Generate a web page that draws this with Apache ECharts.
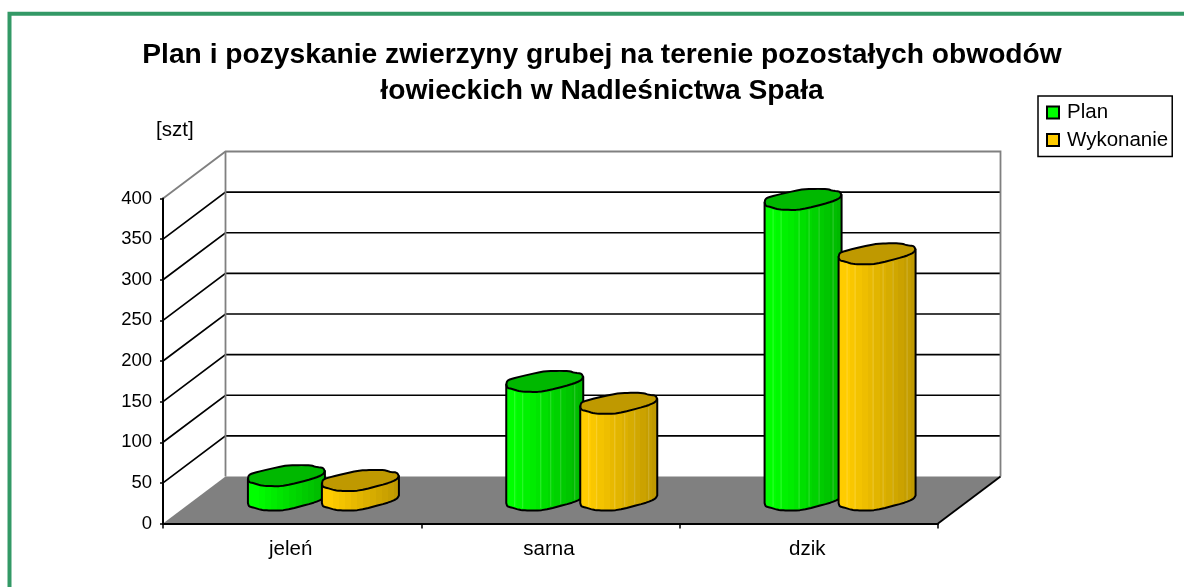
<!DOCTYPE html>
<html><head><meta charset="utf-8">
<style>html,body{margin:0;padding:0;background:#fff}#c{width:1184px;height:587px}</style>
<script src="https://cdn.jsdelivr.net/npm/echarts@6/dist/echarts.min.js"></script>
</head><body><div id="c"></div>
<script>
const categories = ['jeleń', 'sarna', 'dzik'];
const planValues = [30, 146, 370];
const wykonanieValues = [24, 119, 303];
const yTicks = [0, 50, 100, 150, 200, 250, 300, 350, 400];

const FONT = '"Liberation Sans", Arial, sans-serif';
const DEPTH_X = 62.5, DEPTH_Y = -47;
// cap outline of a column, relative to its centre, in px
const CAP = [[-38.5,3],[-37.5,-1],[-30,-3.5],[-2,-10],[10,-10.5],[24,-10.5],[30,-8.5],[36.5,-8],[38.5,-4.5],[36.5,-1],[27,3],[-2,10.5],[-17,10.5],[-25,10],[-33,7.5],[-37.5,6.5]];
const FRONT = [[38.5,-4.5],[36.5,-1],[27,3],[-2,10.5],[-17,10.5],[-25,10],[-33,7.5],[-37.5,6.5],[-38.5,3]];

function chaikin(pts, closed, n) {
  let p = pts;
  for (let k = 0; k < n; k++) {
    const out = [];
    const m = closed ? p.length : p.length - 1;
    if (!closed) out.push(p[0]);
    for (let i = 0; i < m; i++) {
      const a = p[i], b = p[(i + 1) % p.length];
      out.push([a[0]*.78+b[0]*.22, a[1]*.78+b[1]*.22], [a[0]*.22+b[0]*.78, a[1]*.22+b[1]*.78]);
    }
    if (!closed) out.push(p[p.length - 1]);
    p = out;
  }
  return p;
}
const capSmooth = chaikin(CAP, true, 2);
const frontSmooth = chaikin(FRONT, false, 2);

function frontY(x) {
  for (let i = 0; i < frontSmooth.length - 1; i++) {
    const a = frontSmooth[i], b = frontSmooth[i + 1];
    if (x <= a[0] && x >= b[0]) {
      const t = (a[0] - x) / ((a[0] - b[0]) || 1);
      return a[1] + (b[1] - a[1]) * t;
    }
  }
  return 0;
}
function mix(c1, c2, t) {
  return 'rgb(' + c1.map((v, i) => Math.round(v + (c2[i] - v) * t)).join(',') + ')';
}
function bands(bright, dark) {
  const stops = [], n = 13;
  for (let i = 0; i < n; i++) {
    const t = Math.max(0, (i - 1) / (n - 2));
    const c = mix(bright, dark, t);
    stops.push({offset: i / n, color: c}, {offset: (i + 1) / n, color: c});
  }
  return {type: 'linear', x: 0, y: 0, x2: 1, y2: 0, colorStops: stops};
}

function columnRender(shift, bright, dark) {
  return function (params, api) {
    const idx = api.value(0), v = api.value(1);
    const base = api.coord([idx, 0]), top = api.coord([idx, v]);
    const cx = base[0] + shift + DEPTH_X / 2;
    const yb = base[1] + DEPTH_Y / 2, yt = top[1] + DEPTH_Y / 2;
    const abs = (p, y) => [cx + p[0], y + p[1]];
    const line = {stroke: '#000', lineWidth: 2, lineJoin: 'round'};
    const body = [abs(CAP[0], yt), abs(FRONT[0], yt)].concat(frontSmooth.map(p => abs(p, yb)));
    const children = [{
      type: 'polygon', shape: {points: body},
      style: Object.assign({fill: bands(bright, dark)}, line)
    }];
    const h = yb - yt;
    if (h > 60) {
      [-30, -22, -4, 6, 16, 30].forEach(dx => {
        children.push({
          type: 'line',
          shape: {x1: cx + dx, y1: yt + frontY(dx) + 2, x2: cx + dx, y2: yb + frontY(dx) - 2},
          style: {stroke: 'rgba(255,255,255,0.2)', lineWidth: 1}
        });
      });
    }
    children.push({
      type: 'polygon', shape: {points: capSmooth.map(p => abs(p, yt))},
      style: Object.assign({fill: mix(dark, dark, 0)}, line)
    });
    return {type: 'group', children};
  };
}

function wallsRender(params, api) {
  const cs = params.coordSys;
  const x0 = cs.x, x1 = cs.x + cs.width;
  const y0 = api.coord([0, 0])[1];
  const yMax = api.coord([0, yTicks[yTicks.length - 1]])[1];
  const grey = {stroke: '#808080', lineWidth: 1.8};
  const black = {stroke: '#000', lineWidth: 1.7};
  const ch = [];
  ch.push({type: 'polygon', shape: {points: [[x0, y0], [x1, y0], [x1 + DEPTH_X, y0 + DEPTH_Y], [x0 + DEPTH_X, y0 + DEPTH_Y]]}, style: {fill: '#808080'}});
  yTicks.slice(1, -1).forEach(t => {
    const y = api.coord([0, t])[1];
    ch.push({type: 'polyline', shape: {points: [[x0, y], [x0 + DEPTH_X, y + DEPTH_Y], [x1 + DEPTH_X, y + DEPTH_Y]]}, style: Object.assign({fill: null}, black)});
  });
  ch.push({type: 'polyline', shape: {points: [[x0, yMax], [x0 + DEPTH_X, yMax + DEPTH_Y], [x1 + DEPTH_X, yMax + DEPTH_Y], [x1 + DEPTH_X, y0 + DEPTH_Y]]}, style: Object.assign({fill: null}, grey)});
  ch.push({type: 'line', shape: {x1: x0 + DEPTH_X, y1: yMax + DEPTH_Y, x2: x0 + DEPTH_X, y2: y0 + DEPTH_Y}, style: grey});
  ch.push({type: 'line', shape: {x1: x1, y1: y0, x2: x1 + DEPTH_X, y2: y0 + DEPTH_Y}, style: {stroke: '#000', lineWidth: 1.8}});
  return {type: 'group', children: ch};
}

const chart = echarts.init(document.getElementById('c'), null, {renderer: 'canvas'});
chart.setOption({
  animation: false,
  backgroundColor: '#fff',
  title: {
    text: 'Plan i pozyskanie zwierzyny grubej na terenie pozostałych obwodów\nłowieckich w Nadleśnictwa Spała',
    left: 597, top: 32, textAlign: 'center',
    textStyle: {fontFamily: FONT, fontSize: 28.2, fontWeight: 'bold', color: '#000', lineHeight: 36}
  },
  legend: {
    orient: 'vertical', left: 1038, top: 96,
    data: ['Plan', 'Wykonanie'],
    icon: 'rect', itemWidth: 12, itemHeight: 12, itemGap: 6.5,
    padding: [6, 4, 6, 8],
    backgroundColor: '#fff', borderColor: '#000', borderWidth: 1.5,
    textStyle: {fontFamily: FONT, fontSize: 20.5, color: '#000', padding: [0, 0, 0, 3]}
  },
  grid: {left: 163, right: 246, top: 198.5, bottom: 63.5, containLabel: false},
  xAxis: {
    type: 'category', data: categories, z: 5,
    axisLine: {lineStyle: {color: '#000', width: 2}},
    axisTick: {show: true, length: 5, alignWithLabel: false, lineStyle: {color: '#000', width: 1.5}},
    axisLabel: {fontFamily: FONT, fontSize: 20.5, color: '#000', margin: 15, padding: [0, 3, 0, 0]},
    splitLine: {show: false}
  },
  yAxis: {
    type: 'value', min: 0, max: 400, interval: 50, z: 5,
    name: '[szt]', nameLocation: 'end', nameGap: 58,
    nameTextStyle: {fontFamily: FONT, fontSize: 20.5, color: '#000', align: 'left', padding: [0, 0, 0, -7]},
    axisLine: {show: true, lineStyle: {color: '#000', width: 2}},
    axisTick: {show: true, length: 3, lineStyle: {color: '#000', width: 1.5}},
    axisLabel: {fontFamily: FONT, fontSize: 18.5, color: '#000', margin: 11, padding: [2, 0, 0, 0]},
    splitLine: {show: false}
  },
  graphic: [{
    type: 'polyline', silent: true, z: 10,
    shape: {points: [[9.5, 587], [9.5, 13.8], [1184, 13.8]]},
    style: {fill: null, stroke: '#339966', lineWidth: 4}
  }],
  series: [
    {name: 'walls', type: 'custom', z: 1, silent: true, renderItem: wallsRender, data: [[0, 0]], encode: {x: 0, y: 1}},
    {name: 'Plan', type: 'custom', z: 2, renderItem: columnRender(-37, [0,255,0], [0,184,0]),
     itemStyle: {color: '#00FF00', borderColor: '#000', borderWidth: 1.5},
     data: planValues.map((v, i) => [i, v]), encode: {x: 0, y: 1}},
    {name: 'Wykonanie', type: 'custom', z: 3, renderItem: columnRender(37, [255,204,0], [191,153,0]),
     itemStyle: {color: '#FFCC00', borderColor: '#000', borderWidth: 1.5},
     data: wykonanieValues.map((v, i) => [i, v]), encode: {x: 0, y: 1}}
  ]
});
</script></body></html>
